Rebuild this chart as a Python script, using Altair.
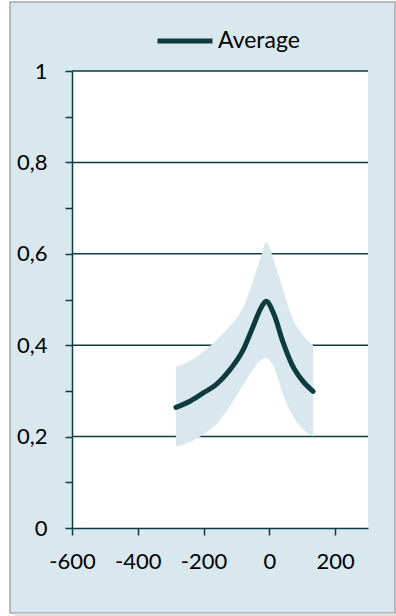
import altair as alt
import pandas as pd

# Offset (x) and the average with its lower/upper spread
offset = [-284, -240, -200, -160, -120, -80, -50, -25, -10, 15, 40, 70, 100, 133]
average = [0.264, 0.278, 0.296, 0.315, 0.346, 0.389, 0.44, 0.482, 0.496, 0.466, 0.41, 0.356, 0.323, 0.299]
upper = [0.354, 0.366, 0.386, 0.412, 0.442, 0.482, 0.54, 0.595, 0.625, 0.583, 0.525, 0.46, 0.424, 0.4]
lower = [0.178, 0.188, 0.205, 0.228, 0.266, 0.313, 0.346, 0.368, 0.372, 0.35, 0.295, 0.248, 0.218, 0.2]

x_ticks = [-600, -400, -200, 0, 200]
y_ticks = [round(i * 0.1, 1) for i in range(11)]
grid_levels = [0.2, 0.4, 0.6, 0.8, 1.0]

W, H = 296, 457
DARK = "#0e3b40"
PANEL = "#d9e8ee"
FONT = "Lato"

df = pd.DataFrame({"x": offset, "avg": average, "hi": upper, "lo": lower, "series": "Average"})
grid_df = pd.DataFrame({"y": grid_levels})

xs = alt.Scale(domain=[-600, 300], nice=False, zero=False)
ys = alt.Scale(domain=[0, 1], nice=False)

x_axis = alt.Axis(values=x_ticks, title=None, grid=False, domainColor=DARK, domainWidth=1.5,
                  tickColor=DARK, tickWidth=1.5, tickSize=7, labelFont=FONT, labelFontSize=22,
                  labelColor="#000000", labelPadding=16, labelOverlap=False, labelFlush=False,
                  labelExpr="'' + datum.value", zindex=1)
y_axis = alt.Axis(values=y_ticks, title=None, grid=False, domainColor=DARK, domainWidth=1.5,
                  tickColor=DARK, tickWidth=1.5, tickSize=7, labelFont=FONT, labelFontSize=22,
                  labelColor="#000000", labelPadding=18, labelOverlap=False, zindex=1,
                  labelExpr="round(datum.value*10) % 2 == 0 ? replace(format(datum.value, '.1~f'), '.', ',') : ''")

# panel frame and white plot area
frame = alt.Chart(pd.DataFrame({"k": [0]})).mark_rect(fill=PANEL, stroke="#a6a6a6", strokeWidth=1.5).encode(
    x=alt.value(-62), x2=alt.value(323), y=alt.value(-69), y2=alt.value(542))
shadow = alt.Chart(pd.DataFrame({"k": [0]})).mark_rule(color="#e2e2e2", strokeWidth=3).encode(
    x=alt.value(-58), x2=alt.value(326), y=alt.value(544))
plot_bg = alt.Chart(pd.DataFrame({"k": [0]})).mark_rect(fill="#ffffff").encode(
    x=alt.value(0), x2=alt.value(W), y=alt.value(0), y2=alt.value(H))

grid = alt.Chart(grid_df).mark_rule(color=DARK, strokeWidth=1.5).encode(
    y=alt.Y("y:Q", scale=ys, axis=y_axis))

band = alt.Chart(df).mark_area(color=PANEL, opacity=1, interpolate="monotone").encode(
    x=alt.X("x:Q", scale=xs, axis=x_axis),
    y=alt.Y("lo:Q", scale=ys, axis=y_axis),
    y2="hi:Q")

line = alt.Chart(df).mark_line(strokeWidth=5, strokeCap="round", interpolate="monotone").encode(
    x=alt.X("x:Q", scale=xs, axis=x_axis),
    y=alt.Y("avg:Q", scale=ys, axis=y_axis),
    color=alt.Color("series:N", scale=alt.Scale(range=[DARK]),
                    legend=alt.Legend(title=None, orient="none", legendX=83, legendY=-60,
                                      symbolType="stroke", symbolSize=3025, symbolStrokeWidth=5,
                                      labelFont=FONT, labelFontSize=23, labelColor="#000000",
                                      labelOffset=3)))

chart = alt.layer(frame, shadow, plot_bg, grid, band, line).properties(
    width=W, height=H, padding={"left": 72, "top": 71, "right": 28, "bottom": 88},
    autosize=alt.AutoSizeParams(type="none"), background="#ffffff"
).configure_view(stroke=None, fill=None)

chart.save("out.html", embed_options={"renderer": "svg", "actions": False})
